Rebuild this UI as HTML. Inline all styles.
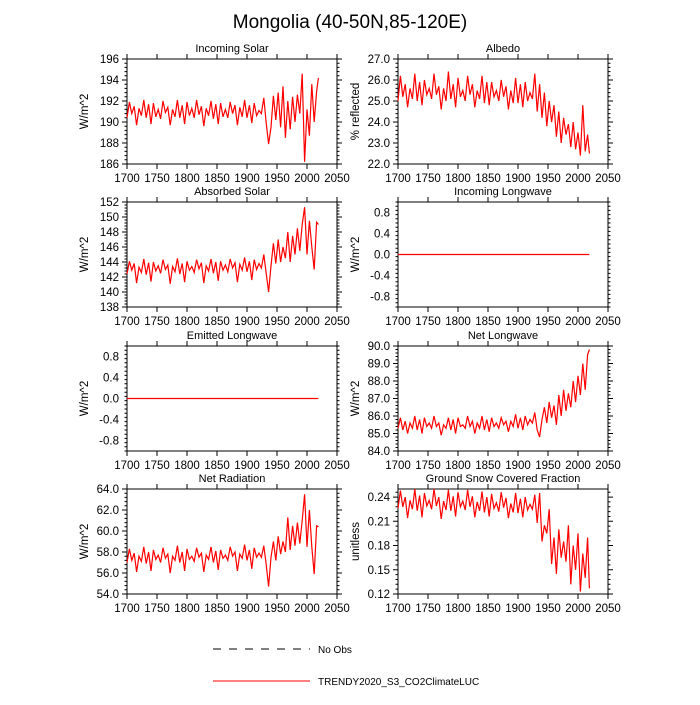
<!DOCTYPE html>
<html><head><meta charset="utf-8">
<style>
html,body{margin:0;padding:0;background:#fff;}
svg text{font-family:"Liberation Sans",sans-serif;fill:#000;}
</style></head>
<body>
<svg id="chart" width="700" height="700" xmlns="http://www.w3.org/2000/svg">
<text x="350" y="28" font-size="19" text-anchor="middle">Mongolia (40-50N,85-120E)</text>
<g>
<line x1="213" y1="649" x2="310" y2="649" stroke="#000" stroke-width="1" stroke-dasharray="8,8"/>
<text x="318" y="653" font-size="10">No Obs</text>
<line x1="213" y1="681" x2="310" y2="681" stroke="#f00" stroke-width="1"/>
<text x="318" y="685" font-size="10">TRENDY2020_S3_CO2ClimateLUC</text>
</g>
</svg>
<script>
const years = [];
for (let y = 1700; y <= 2016; y += 4) years.push(y);
years.push(2019);
const zeroYears = [1700, 2019];
const zeroVals = [0, 0];

const inSolar = [190.4,191.9,190.8,191.5,189.7,191.3,190.6,192.1,190.4,191.7,189.8,191.8,190.5,191.2,
190.3,192.0,190.9,191.4,189.7,191.2,190.5,192.1,190.4,191.6,189.8,191.9,190.6,191.3,
190.4,192.1,190.7,191.5,189.6,191.3,190.6,192.0,190.3,191.7,189.8,191.8,190.5,191.2,
190.4,191.9,190.8,191.6,189.7,191.4,190.5,192.1,190.4,191.6,189.9,191.8,190.6,191.1,
190.8,192.3,189.9,187.9,189.5,192.5,190.2,192.8,189.5,193.4,188.5,192.0,189.3,192.4,190.0,192.6,190.8,194.6,186.2,191.2,188.7,193.6,190.0,192.9,194.2];
const albedo = [25.0,26.2,25.2,25.8,24.7,25.6,25.1,26.3,25.0,25.9,24.8,26.0,25.3,25.6,
25.1,26.3,25.3,25.7,24.6,25.6,25.0,26.4,25.1,25.8,24.7,26.1,25.2,25.5,
25.0,26.2,25.3,25.8,24.7,25.5,25.1,26.2,24.9,25.9,24.8,25.9,25.2,25.5,
25.0,26.0,25.2,25.7,24.6,25.5,24.9,26.1,24.9,25.8,24.7,25.9,25.0,25.4,
25.1,26.3,24.5,25.8,24.2,25.4,23.8,25.0,24.0,24.8,23.3,24.5,23.0,24.2,23.4,23.9,22.8,24.0,22.7,23.5,22.4,24.8,22.6,23.4,22.5];
const absSolar = [142.4,144.1,142.9,143.8,141.2,143.3,142.6,144.4,142.3,143.9,141.4,144.0,142.8,143.5,
142.5,144.3,143.0,143.6,141.1,143.4,142.7,144.5,142.4,143.8,141.3,144.1,142.9,143.4,
142.6,144.3,143.1,143.9,141.2,143.5,142.8,144.4,142.5,144.0,141.5,144.1,142.9,143.6,
142.7,144.4,143.2,143.9,141.3,143.7,142.9,144.6,142.7,144.1,141.6,144.3,143.0,143.8,
143.2,145.0,142.5,140.0,143.5,146.5,143.8,147.0,144.0,146.0,144.5,148.0,144.0,147.5,145.0,148.5,145.5,149.0,151.3,145.0,149.5,146.0,143.0,149.3,149.0];
const netLW = [85.3,85.9,85.2,85.7,85.0,85.6,85.3,86.0,85.2,85.8,85.0,85.9,85.4,85.6,
85.3,86.0,85.4,85.6,84.9,85.5,85.3,85.9,85.2,85.8,85.0,85.9,85.4,85.5,
85.3,86.0,85.4,85.7,85.0,85.6,85.3,86.0,85.2,85.8,85.1,85.9,85.4,85.6,
85.3,85.9,85.5,85.7,85.1,85.7,85.4,86.1,85.3,85.9,85.2,86.0,85.5,85.8,
85.6,86.2,85.2,84.8,85.8,86.5,85.6,86.8,85.9,86.6,85.5,87.2,86.0,87.5,86.3,87.3,86.5,88.0,86.8,88.3,87.2,89.0,87.5,89.5,89.8];
const netRad = [57.0,58.3,57.2,57.9,56.1,57.6,57.1,58.5,56.9,58.0,56.2,58.2,57.3,57.7,
57.0,58.4,57.4,57.8,56.0,57.6,57.2,58.6,57.0,58.0,56.2,58.3,57.3,57.6,
57.1,58.4,57.5,57.9,56.1,57.7,57.3,58.5,57.0,58.1,56.3,58.2,57.4,57.7,
57.2,58.5,57.6,58.0,56.2,57.8,57.4,58.7,57.2,58.2,56.4,58.4,57.5,57.9,
57.5,58.6,56.8,54.7,57.5,59.0,57.2,59.5,57.8,59.0,58.0,61.3,58.2,60.5,58.6,60.8,58.8,61.0,63.5,58.5,62.0,58.5,55.9,60.5,60.4];
const snow = [0.226,0.248,0.228,0.240,0.214,0.236,0.225,0.250,0.223,0.242,0.215,0.245,0.229,0.236,
0.225,0.250,0.229,0.240,0.213,0.235,0.224,0.249,0.223,0.241,0.216,0.246,0.228,0.235,
0.224,0.249,0.228,0.241,0.215,0.234,0.223,0.247,0.221,0.240,0.216,0.244,0.226,0.233,
0.222,0.246,0.227,0.239,0.214,0.232,0.221,0.245,0.220,0.238,0.215,0.240,0.224,0.231,
0.225,0.243,0.208,0.245,0.185,0.205,0.195,0.225,0.157,0.190,0.145,0.200,0.165,0.185,0.160,0.205,0.132,0.180,0.150,0.195,0.123,0.170,0.140,0.190,0.127];

const xTicks = [1700,1750,1800,1850,1900,1950,2000,2050];
const ticksInSolar = [186,188,190,192,194,196];
const ticksAlbedo = [22.0,23.0,24.0,25.0,26.0,27.0];
const ticksAbs = [138,140,142,144,146,148,150,152];
const ticksZero = [-0.8,-0.4,0.0,0.4,0.8];
const ticksLW = [84.0,85.0,86.0,87.0,88.0,89.0,90.0];
const ticksRad = [54.0,56.0,58.0,60.0,62.0,64.0];
const ticksSnow = [0.12,0.15,0.18,0.21,0.24];

const NS = "http://www.w3.org/2000/svg";
const svg = document.getElementById('chart');
function mk(tag, attrs, parent) {
  const e = document.createElementNS(NS, tag);
  for (const k in attrs) e.setAttribute(k, attrs[k]);
  parent.appendChild(e);
  return e;
}
const W = 210, H = 105;
const panels = [
  {name:'incoming-solar', title:'Incoming Solar', ylab:'W/m^2', x:127, y:59, ymin:186, ymax:196, ticks:ticksInSolar, dec:0, xs:years, ys:inSolar},
  {name:'albedo', title:'Albedo', ylab:'% reflected', x:398, y:59, ymin:22, ymax:27, ticks:ticksAlbedo, dec:1, xs:years, ys:albedo},
  {name:'absorbed-solar', title:'Absorbed Solar', ylab:'W/m^2', x:127, y:202, ymin:138, ymax:152, ticks:ticksAbs, dec:0, xs:years, ys:absSolar},
  {name:'incoming-longwave', title:'Incoming Longwave', ylab:'W/m^2', x:398, y:202, ymin:-1, ymax:1, ticks:ticksZero, dec:1, xs:zeroYears, ys:zeroVals},
  {name:'emitted-longwave', title:'Emitted Longwave', ylab:'W/m^2', x:127, y:346, ymin:-1, ymax:1, ticks:ticksZero, dec:1, xs:zeroYears, ys:zeroVals},
  {name:'net-longwave', title:'Net Longwave', ylab:'W/m^2', x:398, y:346, ymin:84, ymax:90, ticks:ticksLW, dec:1, xs:years, ys:netLW},
  {name:'net-radiation', title:'Net Radiation', ylab:'W/m^2', x:127, y:489, ymin:54, ymax:64, ticks:ticksRad, dec:1, xs:years, ys:netRad},
  {name:'ground-snow-covered-fraction', title:'Ground Snow Covered Fraction', ylab:'unitless', x:398, y:489, ymin:0.12, ymax:0.25, ticks:ticksSnow, dec:2, xs:years, ys:snow}
];
panels.forEach(p => {
  const g = mk('g', {}, svg);
  
  
  const sx = v => p.x + (v - 1700) / 350 * W;
  const sy = v => p.y + H - (v - p.ymin) / (p.ymax - p.ymin) * H;
  const t = mk('text', {x:p.x + W/2, y:p.y - 7, 'font-size':11, 'text-anchor':'middle'}, g);
  t.textContent = p.title;
  
  
  const yl = mk('text', {x:0, y:0, 'font-size':11.5, 'text-anchor':'middle', transform:`translate(${p.x-39},${p.y+H/2}) rotate(-90)`}, g);
  yl.textContent = p.ylab;
  
  
  let d = '';
  xTicks.forEach(v => {
    const X = sx(v);
    d += `M${X},${p.y+H}v5M${X},${p.y}v-5`;
    const tx = mk('text', {x:X, y:p.y + H + 18, 'font-size':11.5, 'text-anchor':'middle'}, g);
    tx.textContent = v;
    
    
  });
  const step = p.ticks[1] - p.ticks[0];
  const mstep = step / 5;
  for (let v = p.ymin; v <= p.ymax + 1e-9; v += mstep) {
    const Y = sy(v);
    const major = p.ticks.some(tv => Math.abs(tv - v) < 1e-6);
    const L = major ? 5 : 2.5;
    d += `M${p.x},${Y}h${-L}M${p.x+W},${Y}h${L}`;
  }
  p.ticks.forEach(v => {
    const ty = mk('text', {x:p.x - 8, y:sy(v) + 4, 'font-size':11.5, 'text-anchor':'end'}, g);
    ty.textContent = v.toFixed(p.dec);
    
    
  });
  const tk = mk('path', {d:d, stroke:'#000', 'stroke-width':1, fill:'none'}, g);
  
  
  const fr = mk('rect', {x:p.x, y:p.y, width:W, height:H, fill:'none', stroke:'#000', 'stroke-width':1}, g);
  
  
  const pts = p.xs.map((v, i) => sx(v).toFixed(1) + ',' + sy(p.ys[i]).toFixed(1)).join(' ');
  const ln = mk('polyline', {points:pts, fill:'none', stroke:'#f00', 'stroke-width':1.2}, g);
  
  
});
</script>
</body></html>
